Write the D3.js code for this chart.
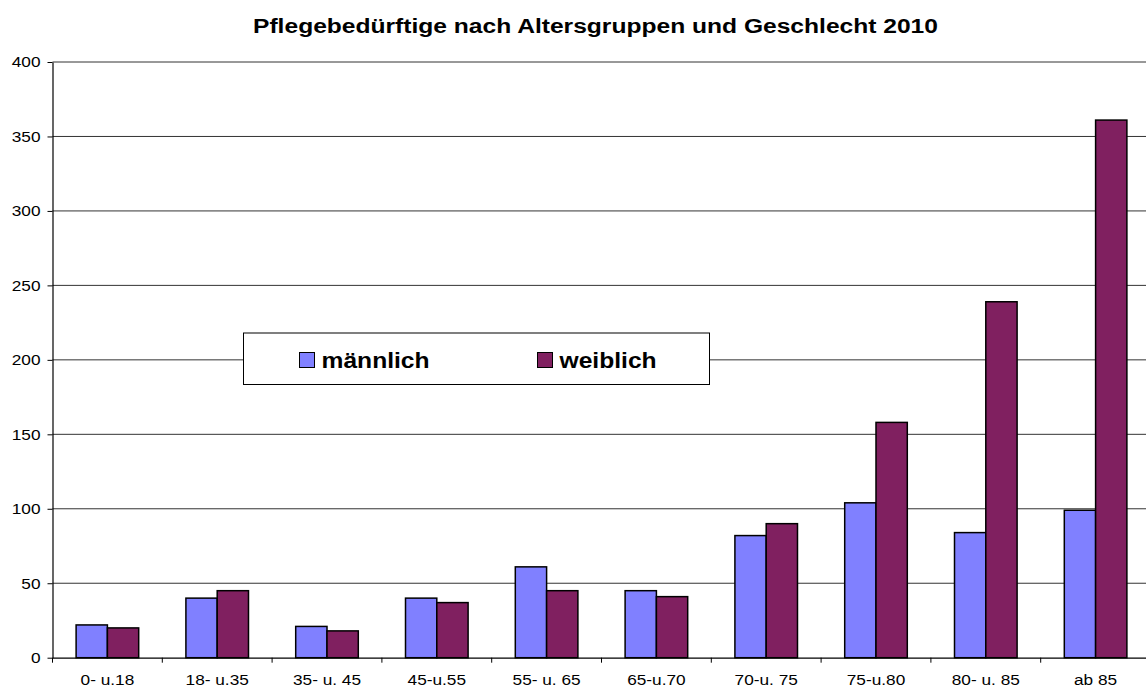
<!DOCTYPE html>
<html>
<head>
<meta charset="utf-8">
<script src="https://cdn.jsdelivr.net/npm/d3@7"></script>
<style>
  body { margin: 0; background: #fff; }
  svg { font-family: "Liberation Sans", Arial, sans-serif; }
</style>
</head>
<body>
<div id="chart"></div>
<script>
// data
var categories = ["0- u.18", "18- u.35", "35- u. 45", "45-u.55", "55- u. 65",
                  "65-u.70", "70-u. 75", "75-u.80", "80- u. 85", "ab 85"];
var maleValues = [22, 40, 21, 40, 61, 45, 82, 104, 84, 99];
var femaleValues = [20, 45, 18, 37, 45, 41, 90, 158, 239, 361];
var seriesNames = ["männlich", "weiblich"];
var seriesColors = ["#8080ff", "#802060"];
var yTicks = [0, 50, 100, 150, 200, 250, 300, 350, 400];

var width = 1146, height = 690;
var margin = { left: 52.5, top: 62, right: -4.5, bottom: 32.3 };
var plotW = width - margin.left - margin.right;
var plotH = height - margin.top - margin.bottom;

// the original text is drawn a bit wider than Arial
var stretch = 1.15;

var svg = d3.select("#chart").append("svg")
    .attr("width", width)
    .attr("height", height);

var g = svg.append("g")
    .attr("transform", "translate(" + margin.left + "," + margin.top + ")");

var x = d3.scaleBand().domain(categories).range([0, plotW]).paddingInner(0).paddingOuter(0);
var y = d3.scaleLinear().domain([0, 400]).range([plotH, 0]);

// gridlines
g.selectAll("line.grid")
    .data(yTicks.slice(1))
    .enter().append("line")
    .attr("class", "grid")
    .attr("x1", 0).attr("x2", plotW)
    .attr("y1", d => y(d)).attr("y2", d => y(d))
    .style("stroke", "#333")
    .style("stroke-width", 1);

// bars
var groupW = x.bandwidth() * 0.57;
var barW = groupW / 2;
var rows = categories.map((c, i) => ({ cat: c, vals: [maleValues[i], femaleValues[i]] }));

var groups = g.selectAll("g.cat")
    .data(rows)
    .enter().append("g")
    .attr("transform", d => "translate(" + (x(d.cat) + (x.bandwidth() - groupW) / 2) + ",0)");

groups.selectAll("rect")
    .data(d => d.vals)
    .enter().append("rect")
    .attr("x", (d, i) => i * barW)
    .attr("y", d => y(d))
    .attr("width", barW)
    .attr("height", d => plotH - y(d))
    .style("fill", (d, i) => seriesColors[i])
    .style("stroke", "#000")
    .style("stroke-width", 1.5);

// y axis
var yAxis = g.append("g")
    .call(d3.axisLeft(y).tickValues(yTicks).tickSize(5).tickPadding(7).tickSizeOuter(0));
yAxis.select(".domain").style("stroke", "#000").style("stroke-width", 1.2);
yAxis.selectAll(".tick line").style("stroke", "#000");
yAxis.selectAll("text").style("font-size", "15px").style("fill", "#000")
    .style("font-family", "Liberation Sans, Arial, sans-serif")
    .attr("transform", "translate(-12,0) scale(" + stretch + ",1) translate(12,0)");

// x axis
var xAxis = g.append("g")
    .attr("transform", "translate(0," + plotH + ")")
    .call(d3.axisBottom(x).tickSize(0).tickPadding(17));
xAxis.select(".domain").style("stroke", "#000").style("stroke-width", 1.2);
xAxis.selectAll("text").style("font-size", "15px").style("fill", "#000")
    .style("font-family", "Liberation Sans, Arial, sans-serif")
    .attr("transform", "scale(" + stretch + ",1)");

// category separators on x axis
g.selectAll("line.sep")
    .data(categories)
    .enter().append("line")
    .attr("class", "sep")
    .attr("x1", d => x(d)).attr("x2", d => x(d))
    .attr("y1", plotH).attr("y2", plotH + 5)
    .style("stroke", "#000");

// title
svg.append("text")
    .attr("transform", "translate(595.5,32.5) scale(1.23,1)")
    .attr("text-anchor", "middle")
    .style("font-size", "20px")
    .style("font-weight", "bold")
    .text("Pflegebedürftige nach Altersgruppen und Geschlecht 2010");

// legend
var legend = svg.append("g").attr("transform", "translate(243.5,333)");
legend.append("rect")
    .attr("width", 466).attr("height", 51.5)
    .style("fill", "#fff").style("stroke", "#000").style("stroke-width", 1);

var legendX = [56, 294];
var items = legend.selectAll("g.item")
    .data(seriesNames)
    .enter().append("g")
    .attr("transform", (d, i) => "translate(" + legendX[i] + ",19.5)");
items.append("rect")
    .attr("width", 15).attr("height", 15)
    .style("fill", (d, i) => seriesColors[i])
    .style("stroke", "#000").style("stroke-width", 1);
items.append("text")
    .attr("transform", "translate(22,15.5) scale(1.12,1)")
    .style("font-size", "22px").style("font-weight", "bold")
    .text(d => d);
</script>
</body>
</html>
